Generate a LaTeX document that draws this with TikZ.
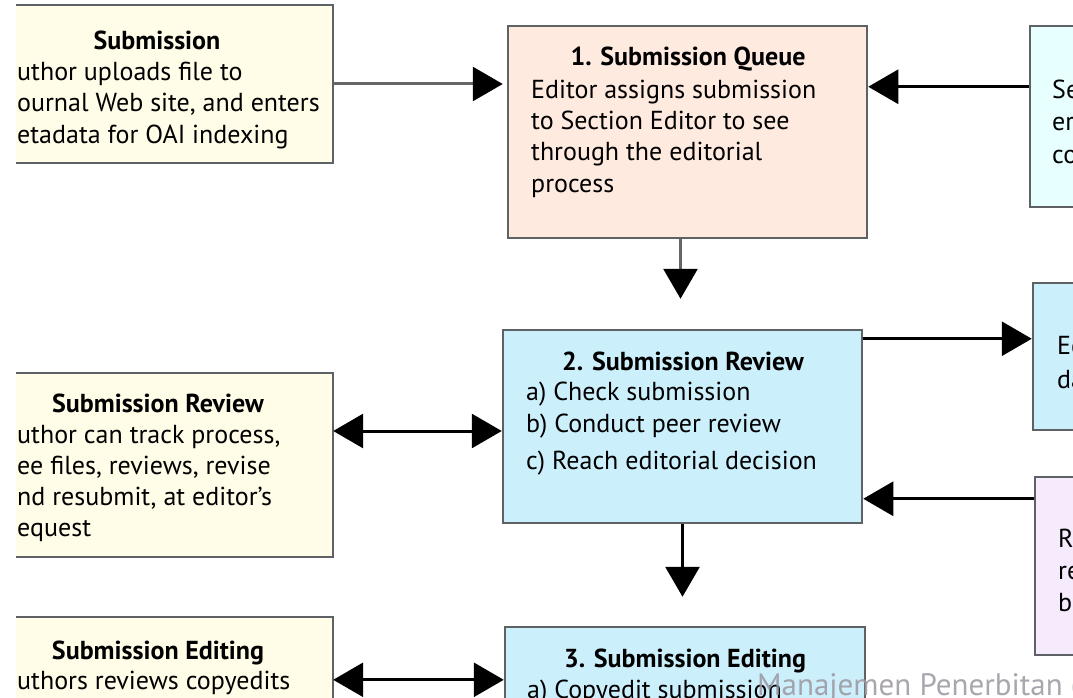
\documentclass[tikz,border=0pt]{standalone}
\usepackage{fontspec}
\setmainfont{PT Sans}
\usetikzlibrary{arrows.meta}

\definecolor{cream}{RGB}{255,252,232}
\definecolor{peach}{RGB}{255,234,224}
\definecolor{icecyan}{RGB}{232,255,255}
\definecolor{skyblue}{RGB}{204,239,252}
\definecolor{lavender}{RGB}{246,234,253}
\definecolor{boxline}{RGB}{95,98,100}
\definecolor{markgray}{RGB}{155,150,160}

\begin{document}
\begin{tikzpicture}[x=1pt, y=-1pt,
    every node/.style={font=\fontsize{26}{30}\selectfont, inner sep=0pt},
    box/.style={draw=boxline, line width=2.5pt},
    head/.style={font=\bfseries\fontsize{26}{30}\selectfont, anchor=base},
    line/.style={anchor=base west},
    arr/.style={-{Triangle[length=30pt,width=34pt,color=black]}, line width=3pt},
    dbl/.style={{Triangle[length=30pt,width=34pt]}-{Triangle[length=30pt,width=34pt]}, line width=3pt}]
  \useasboundingbox (0,0) rectangle (1073,698);
  \clip (0,0) rectangle (1073,698);

  % author side (left), cut at the left edge
  \node[fill=cream, minimum width=317pt, minimum height=158pt] (leftsub) at (174.5,84) {};
  \draw[boxline, line width=2.5pt] (leftsub.north west) -- (leftsub.north east) -- (leftsub.south east) -- (leftsub.south west);
  \node[head] (leftsubhead) at (157,50) {Submission};
  \foreach \txt [count=\i] in {uthor uploads file to, {ournal Web site, and enters}, etadata for OAI indexing}
    \node[line] (leftsub\i) at (17,50+31*\i) {\txt};

  \node[fill=cream, minimum width=317pt, minimum height=184pt] (leftrev) at (174.5,465) {};
  \draw[boxline, line width=2.5pt] (leftrev.north west) -- (leftrev.north east) -- (leftrev.south east) -- (leftrev.south west);
  \node[head] (leftrevhead) at (158,412) {Submission Review};
  \foreach \txt [count=\i] in {{uthor can track process,}, {ee files, reviews, revise}, {nd resubmit, at editor's}, equest}
    \node[line] (leftrev\i) at (17,412+31*\i) {\txt};

  \node[fill=cream, minimum width=317pt, minimum height=160pt] (leftedit) at (174.5,697) {};
  \draw[boxline, line width=2.5pt] (leftedit.south east) -- (leftedit.north east) -- (leftedit.north west);
  \node[head] (leftedithead) at (158,659) {Submission Editing};
  \node[line] (leftedit1) at (17,689) {uthors reviews copyedits};

  % editorial workflow (middle)
  \node[box, fill=peach, minimum width=359pt, minimum height=212pt] (queue) at (687.5,132) {};
  \node[head] (queuehead) at (688,66) {1. Submission Queue};
  \foreach \txt [count=\i] in {Editor assigns submission, to Section Editor to see, through the editorial, process}
    \node[line] (queue\i) at (531,67+31.3*\i) {\txt};

  \node[box, fill=skyblue, minimum width=359pt, minimum height=193pt] (review) at (682.5,426.5) {};
  \node[head] (reviewhead) at (683,370) {2. Submission Review};
  \node[line] (review1) at (526,400) {a) Check submission};
  \node[line] (review2) at (526,432) {b) Conduct peer review};
  \node[line] (review3) at (526,469) {c) Reach editorial decision};

  \node[box, fill=skyblue, minimum width=360pt, minimum height=160pt] (editbox) at (685,707) {};
  \node[head] (editboxhead) at (685,667) {3. Submission Editing};
  \node[line] (editbox1) at (527,698) {a) Copyedit submission};

  % other roles (right), cut at the right edge
  \node[box, fill=icecyan, minimum width=100pt, minimum height=181pt] (righttop) at (1080,116.5) {};
  \foreach \txt [count=\i] in {Se, er, co}
    \node[line] (righttop\i) at (1052,67+32*\i) {\txt};

  \node[box, fill=skyblue, minimum width=100pt, minimum height=147pt] (rightmid) at (1083,356.5) {};
  \node[line] (rightmid1) at (1057,354) {Ed};
  \node[line] (rightmid2) at (1057,388) {da};

  \node[box, fill=lavender, minimum width=100pt, minimum height=178pt] (rightlow) at (1085,566) {};
  \foreach \txt [count=\i] in {R, re, b}
    \node[line] (rightlow\i) at (1058,515+32*\i) {\txt};

  % connectors
  \draw[arr, draw=black!60] (leftsub.east) -- ([xshift=-4pt]queue.west |- leftsub.east);
  \draw[arr] ([yshift=-62pt]righttop.north west) -- ([yshift=-62pt]righttop.north west -| queue.east);
  \draw[arr, draw=black!60, shorten >=30pt] ([xshift=-7pt]queue.south) -- ([xshift=-7pt]queue.south |- review.north);
  \draw[arr] ([yshift=-10pt]review.north east) -- ([yshift=-10pt]review.north east -| rightmid.west);
  \draw[arr] ([yshift=-23pt]rightlow.north west) -- ([yshift=-23pt]rightlow.north west -| review.east);
  \draw[dbl] ([yshift=-4.5pt]review.west -| leftrev.east) -- ([yshift=-4.5pt]review.west);
  \draw[arr, shorten >=29pt] (review.south) -- (review.south |- editbox.north);
  \draw[dbl] ([yshift=-63pt]leftedit.north east) -- ([yshift=-63pt]leftedit.north east -| editbox.west);

  \node[line, text=markgray, opacity=0.85, font=\fontsize{31}{34}\selectfont] (stamp) at (757,695) {Manajemen Penerbitan (};
\end{tikzpicture}
\end{document}
